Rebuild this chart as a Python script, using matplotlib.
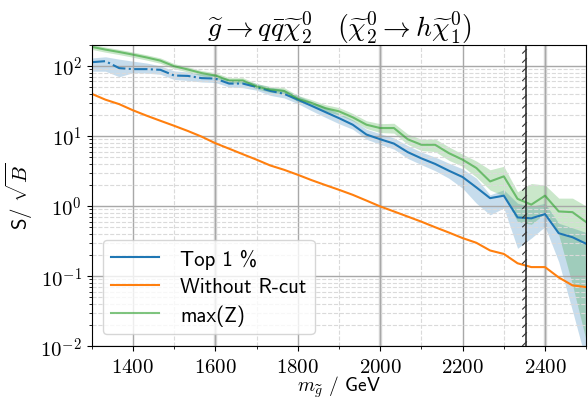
import numpy as np
import matplotlib
matplotlib.use("Agg")
import matplotlib.pyplot as plt
import matplotlib.patheffects as pe
from matplotlib.ticker import FuncFormatter, MultipleLocator, LogLocator

plt.rcParams['mathtext.fontset'] = 'cm'
sans = ['cmss10', 'DejaVu Sans']

# gluino mass points (GeV)
mass = np.linspace(1300, 2500, 37)

top1 = [113, 117, 93, 90, 90, 88, 73, 72, 67, 66, 56, 56, 50, 44, 40, 33, 27, 22, 18, 14.5,
        10.5, 9.0, 7.8, 5.9, 4.8, 4.0, 3.2, 2.6, 1.85, 1.3, 1.41, 0.69, 0.67, 0.77, 0.41, 0.36, 0.29]
top1_lo = [84, 84, 70, 80, 79, 76, 64, 62, 59, 58, 50, 49, 45, 38, 35, 29, 23, 18.5, 15, 12.5,
           9.0, 7.6, 6.5, 4.8, 3.9, 3.2, 2.5, 1.8, 1.1, 0.75, 0.94, 0.25, 0.35, 0.51, 0.16, 0.032, 0.006]
top1_hi = [130, 135, 125, 117, 110, 100, 85, 82, 77, 75, 64, 63, 56, 50, 46, 38, 31, 26, 21, 17,
           12.5, 10.8, 9.4, 7.3, 5.9, 5.0, 4.1, 3.4, 2.5, 1.45, 1.71, 1.1, 0.99, 1.1, 0.57, 0.49, 0.42]

no_rcut = [40, 33, 28.5, 23.3, 19.5, 16.5, 14.0, 11.8, 9.8, 7.9, 6.6, 5.5, 4.6, 3.8, 3.3, 2.8,
           2.35, 2.0, 1.71, 1.45, 1.2, 0.99, 0.84, 0.71, 0.60, 0.50, 0.42, 0.35, 0.30, 0.233,
           0.208, 0.153, 0.135, 0.135, 0.096, 0.074, 0.070]

maxz = [187, 171, 158, 145, 132, 119, 99, 89, 79, 73, 62, 62, 51, 46, 44, 34, 29.6, 25, 22.5, 18.5,
        14.5, 13, 13, 9.0, 7.5, 7.5, 5.7, 4.6, 3.5, 2.25, 2.66, 1.27, 1.05, 1.41, 0.84, 0.82, 0.59]
maxz_lo = [172, 157, 145, 133, 121, 109, 91, 82, 72, 67, 57, 57, 47, 42, 40, 31, 27, 22.5, 20, 16.5,
           12.8, 11.2, 11, 7.6, 6.2, 6.0, 4.5, 3.7, 2.6, 1.7, 1.4, 0.6, 0.55, 0.79, 0.39, 0.075, 0.012]
maxz_hi = [203, 186, 172, 158, 144, 130, 108, 97, 86, 80, 68, 68, 56, 51, 49, 38, 33, 28, 25.5, 21,
           16.5, 15, 15.2, 10.7, 9.0, 9.1, 7.0, 5.5, 4.4, 3.3, 3.7, 1.6, 2.1, 2.0, 1.3, 1.3, 1.0]

limit = 2355

fig = plt.figure(figsize=(5.88, 4.02), dpi=100)
ax = fig.add_axes([0.156, 0.136, 0.841, 0.750])

ax.set_yscale('log')
ax.set_xlim(1300, 2500)
ax.set_ylim(1e-2, 2e2)

# grid
ax.xaxis.set_major_locator(MultipleLocator(200))
ax.xaxis.set_minor_locator(MultipleLocator(100))
ax.yaxis.set_minor_locator(LogLocator(base=10, subs=np.arange(2, 10)))
ax.grid(True, which='major', color='#a8a8a8', lw=1.0)
ax.grid(True, which='minor', color='#dadada', lw=0.8, ls='--')
for xv in [1600, 2000, 2400]:
    ax.axvline(xv, color='#dcdcdc', lw=2.5, zorder=0.5)

ax.fill_between(mass, top1_lo, top1_hi, color='C0', alpha=0.25, lw=0)
ax.fill_between(mass, maxz_lo, maxz_hi, color='C2', alpha=0.25, lw=0)

cut = 15  # index of 1800 GeV
ax.plot(mass[:cut + 1], top1[:cut + 1], color='C0', ls='-.', lw=1.5)
ax.plot(mass[cut:], top1[cut:], color='C0', lw=1.5, label='Top 1 %')
ax.plot(mass, no_rcut, color='C1', lw=1.5, label='Without R-cut')
ax.plot(mass, maxz, color='C2', alpha=0.6, lw=1.5, label='max(Z)')

ax.axvline(limit, color='#333333', lw=1.2,
           path_effects=[pe.withTickedStroke(angle=135, spacing=6.5, length=0.6, linewidth=0.8)])

ax.xaxis.set_major_formatter(FuncFormatter(lambda v, p: f'${v:.0f}$'))
ax.yaxis.set_major_formatter(FuncFormatter(lambda v, p: f'$10^{{{int(round(np.log10(v)))}}}$'))
ax.tick_params(labelsize=15)

ax.set_xlabel(r'$m_{\widetilde{g}}$ / GeV', fontsize=14, labelpad=-1.5, family=sans)
ax.set_ylabel(r'S/ $\sqrt{B}$', fontsize=15, family=sans)
ax.set_title(r'$\widetilde{g} \rightarrow q\bar{q}\widetilde{\chi}_2^0 \quad (\widetilde{\chi}_2^0 \rightarrow h\widetilde{\chi}_1^0)$',
             fontsize=20, pad=5)

ax.legend(loc='lower left', bbox_to_anchor=(0.01, 0.02), borderaxespad=0.3,
          prop={'family': sans, 'size': 15}, handlelength=2.3, handletextpad=1.0,
          labelspacing=0.4)

fig.savefig('out.png', dpi=100)
